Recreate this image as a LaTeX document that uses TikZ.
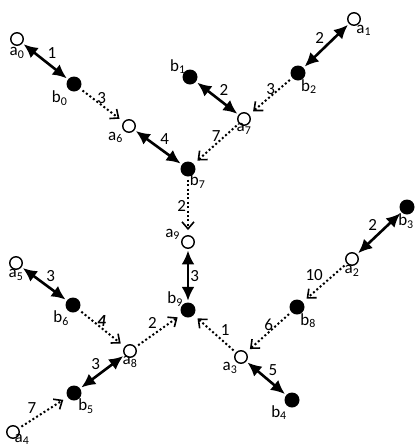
\documentclass[tikz,border=0pt]{standalone}
\usepackage{fontspec}
\setmainfont{Carlito}
\usetikzlibrary{arrows.meta}

\begin{document}
\begin{tikzpicture}[x=1pt, y=-1pt,
    anode/.style={circle, draw, line width=1.4pt, fill=white, inner sep=0pt, minimum size=12.5pt},
    bnode/.style={circle, fill=black, inner sep=0pt, minimum size=15pt},
    tag/.style={font=\fontsize{17}{17}\selectfont, inner sep=1pt},
    every label/.style={tag},
    pair/.style={{Latex[length=14pt,width=13pt]}-{Latex[length=14pt,width=13pt]}, line width=2.6pt, shorten <=1.5pt, shorten >=1.5pt},
    offer/.style={-{Straight Barb[length=7pt,width=12pt,line width=1.6pt]}, line width=2pt, dash pattern=on 2pt off 2.4pt, shorten <=3pt, shorten >=5pt}]
    \useasboundingbox (0,0) rectangle (415,448);
    % 顶点 a
    \node[anode, label=below:a\textsubscript{0}] (a0) at (17,39) {};
    \node[anode, label={[label distance=-2pt]-75:a\textsubscript{1}}] (a1) at (354,19) {};
    \node[anode, label={[label distance=-2pt]below:a\textsubscript{2}}] (a2) at (352,259) {};
    \node[anode, label={[label distance=-2pt]-120:a\textsubscript{3}}] (a3) at (241,357) {};
    \node[anode, label={[label distance=-6pt]-55:a\textsubscript{4}}] (a4) at (13,432) {};
    \node[anode, label={[label distance=-2pt]below:a\textsubscript{5}}] (a5) at (16,263) {};
    \node[anode, label=below left:a\textsubscript{6}] (a6) at (129,126) {};
    \node[anode, label={[label distance=-4pt]below:a\textsubscript{7}}] (a7) at (244,119) {};
    \node[anode, label={[label distance=-3pt]below:a\textsubscript{8}}] (a8) at (130,351) {};
    \node[anode, label=170:a\textsubscript{9}] (a9) at (188,242) {};
    % 顶点 b
    \node[bnode, label=below left:b\textsubscript{0}] (b0) at (74,84) {};
    \node[bnode, label={[label distance=-4pt]150:b\textsubscript{1}}] (b1) at (190,77) {};
    \node[bnode, label={[label distance=-2pt]-70:b\textsubscript{2}}] (b2) at (298,73) {};
    \node[bnode, label={[label distance=-2pt, xshift=-1pt]-90:b\textsubscript{3}}] (b3) at (407,207) {};
    \node[bnode, label={[label distance=-2pt]below left:b\textsubscript{4}}] (b4) at (292,400) {};
    \node[bnode, label={[label distance=-2pt]-57:b\textsubscript{5}}] (b5) at (74,393) {};
    \node[bnode, label={[label distance=-2pt]-120:b\textsubscript{6}}] (b6) at (73,305) {};
    \node[bnode, label={[label distance=-4pt]-80:b\textsubscript{7}}] (b7) at (188,169) {};
    \node[bnode, label={[label distance=-2pt]-67:b\textsubscript{8}}] (b8) at (297,307) {};
    \node[bnode, label={[label distance=-3pt]145:b\textsubscript{9}}] (b9) at (188,310) {};
    % 双向边
    \draw[pair] (a0) -- node[tag, above right] {1} (b0);
    \draw[pair] (a6) -- node[tag, above right] {4} (b7);
    \draw[pair] (b1) -- node[tag, above right] {2} (a7);
    \draw[pair] (a1) -- node[tag, above left] {2} (b2);
    \draw[pair] (a9) -- node[tag, right] {3} (b9);
    \draw[pair] (b3) -- node[tag, above left] {2} (a2);
    \draw[pair] (a3) -- node[tag, above right] {5} (b4);
    \draw[pair] (a5) -- node[tag, above right] {3} (b6);
    \draw[pair] (b5) -- node[tag, above left] {3} (a8);
    % 虚线边
    \draw[offer] (b0) -- node[tag, above] {3} (a6);
    \draw[offer] (b2) -- node[tag, above] {3} (a7);
    \draw[offer] (a7) -- node[tag, above] {7} (b7);
    \draw[offer] (b7) -- node[tag, left] {2} (a9);
    \draw[offer] (a2) -- node[tag, above left] {10} (b8);
    \draw[offer] (b8) -- node[tag, above] {6} (a3);
    \draw[offer] (a3) -- node[tag, above right, pos=0.4] {1} (b9);
    \draw[offer] (b6) -- node[tag, above] {\textbf{\textit{4}}} (a8);
    \draw[offer] (a8) -- node[tag, above left] {2} (b9);
    \draw[offer] (a4) -- node[tag, above left, pos=0.4] {7} (b5);
\end{tikzpicture}
\end{document}
